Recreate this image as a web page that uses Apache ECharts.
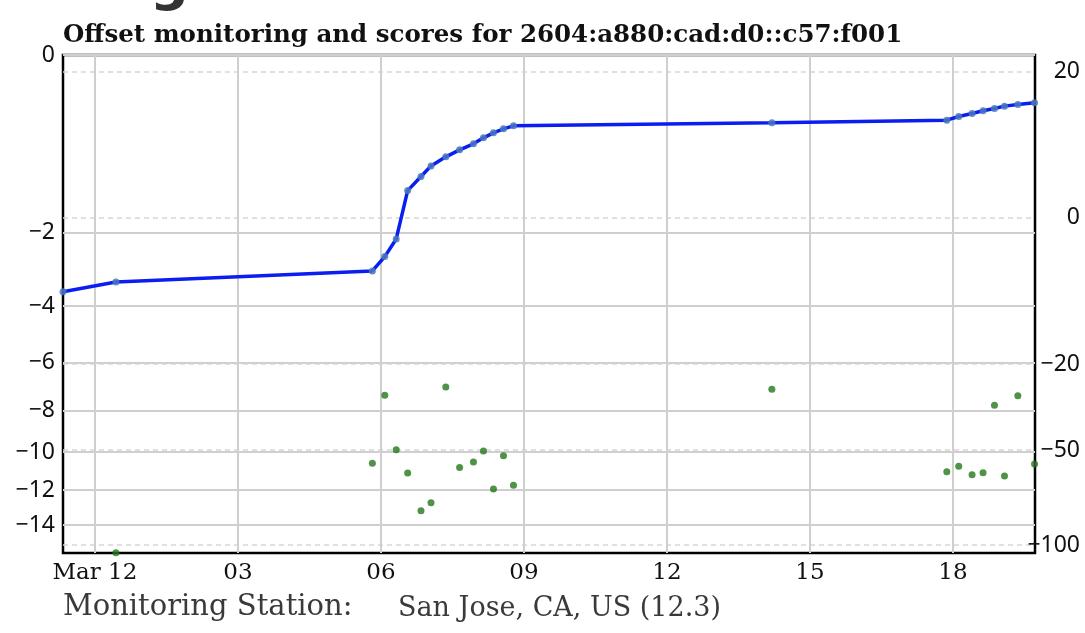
<!DOCTYPE html>
<html>
<head>
<meta charset="utf-8">
<script src="https://cdn.jsdelivr.net/npm/echarts@6/dist/echarts.min.js"></script>
<style>
  html, body { margin: 0; padding: 0; background: #fff; }
  #chart { width: 1085px; height: 633px; }
</style>
</head>
<body>
<div id="chart"></div>
<script>
// hours after Mar 12 00:00 for each monitoring sample
const hours = [0.44, 5.82, 6.08, 6.32, 6.56, 6.84, 7.05, 7.36, 7.65, 7.94, 8.15, 8.36, 8.57, 8.78,
               14.20, 17.87, 18.12, 18.40, 18.63, 18.87, 19.08, 19.36, 19.71];
// score (right axis, blue line)
const scores = [-8.77, -7.26, -5.30, -2.88, 3.74, 5.66, 7.12, 8.36, 9.32, 10.14, 10.96, 11.64, 12.19, 12.60,
                13.01, 13.38, 13.88, 14.29, 14.66, 14.97, 15.30, 15.52, 15.75];
// offset in ms (left axis, green dots)
const offsets = [-15.7, -10.57, -7.34, -9.88, -11.08, -13.16, -12.71, -6.99, -10.78, -10.50, -9.94, -11.94, -10.18, -11.74,
                 -7.08, -11.01, -10.72, -11.17, -11.06, -7.78, -11.24, -7.36, -10.60];
// score line enters from before the visible window
const scoreBefore = [-0.67, -10.10];

const hourTicks = [0, 3, 6, 9, 12, 15, 18];
const offsetTicks = [0, -2, -4, -6, -8, -10, -12, -14];
const scoreTicks = [20, 0, -20, -50, -100];

const xRange = [-0.67, 19.72];
const offsetMin = -15.72;

// offset axis is a square-root scale
function offsetPos(v) { return v < 0 ? -Math.sqrt(-v) : Math.sqrt(v); }
function offsetFromPos(p) { return p < 0 ? -p * p : p * p; }

// score axis is piecewise linear
const scoreKnots = [-104.2, -50, -20, 22.3];
const scoreKnotPos = [0, 0.2068, 0.3795, 1];
function interp(v, from, to) {
    let i = 0;
    while (i < from.length - 2 && v > from[i + 1]) i++;
    const f = (v - from[i]) / (from[i + 1] - from[i]);
    return to[i] + f * (to[i + 1] - to[i]);
}
function scorePos(s) { return interp(s, scoreKnots, scoreKnotPos); }
function scoreFromPos(p) { return interp(p, scoreKnotPos, scoreKnots); }

const MINUS = '\u2212';
function signed(n) { return n < 0 ? MINUS + Math.abs(n) : String(n); }

const scoreData = [scoreBefore].concat(hours.map((h, i) => [h, scores[i]]))
    .map(d => [d[0], scorePos(d[1])]);
const offsetData = hours.map((h, i) => [h, offsetPos(offsets[i])]);

const chart = echarts.init(document.getElementById('chart'));

chart.setOption({
    animation: false,
    backgroundColor: '#fff',
    grid: {
        left: 63, right: 50, top: 55, bottom: 80,
        show: true, borderColor: '#000', borderWidth: 2.5,
    },
    graphic: [
        {
            type: 'text', left: 150, top: -41,
            style: { text: 'g', font: 'bold 54px "DejaVu Sans"', fill: '#333' },
        },
        {
            type: 'text', left: 63, top: 23,
            style: {
                text: 'Offset monitoring and scores for 2604:a880:cad:d0::c57:f001',
                font: 'bold 24.5px "DejaVu Serif"', fill: '#111',
            },
        },
        {
            type: 'text', left: 63, top: 593,
            style: { text: 'Monitoring Station:', font: '29px "DejaVu Serif"', fill: '#3a3a3a' },
        },
        {
            type: 'text', left: 398, top: 595,
            style: { text: 'San Jose, CA, US (12.3)', font: '27px "DejaVu Serif"', fill: '#3a3a3a' },
        },
    ],
    xAxis: {
        type: 'value',
        min: xRange[0], max: xRange[1],
        axisLine: { show: false },
        axisTick: { show: false, customValues: hourTicks },
        axisLabel: {
            customValues: hourTicks,
            margin: 9,
            fontFamily: 'DejaVu Serif', fontSize: 23, color: '#111',
            formatter: v => v === 0 ? 'Mar 12' : String(v).padStart(2, '0'),
        },
        splitLine: { show: true, lineStyle: { color: '#cfcfcf', width: 2 } },
    },
    yAxis: [
        {
            type: 'value',
            position: 'left',
            min: offsetPos(offsetMin), max: 0,
            axisLine: { show: false },
            axisTick: { show: false, customValues: offsetTicks.map(offsetPos) },
            axisLabel: {
                customValues: offsetTicks.map(offsetPos),
                margin: 8,
                fontFamily: 'Noto Sans', fontSize: 23, color: '#111',
                formatter: v => signed(Math.round(offsetFromPos(v))),
            },
            splitLine: { show: true, lineStyle: { color: '#cfcfcf', width: 2 } },
        },
        {
            type: 'value',
            position: 'right',
            min: 0, max: 1,
            axisLine: { show: false },
            axisTick: { show: false, customValues: scoreTicks.map(scorePos) },
            axisLabel: {
                customValues: scoreTicks.map(scorePos),
                margin: 45, align: 'right',
                fontFamily: 'Noto Sans', fontSize: 23, color: '#111',
                formatter: v => signed(Math.round(scoreFromPos(v))),
            },
            splitLine: { show: true, lineStyle: { color: '#d6d6d6', width: 1.5, type: [5, 4] } },
        },
    ],
    series: [
        {
            name: 'offset',
            type: 'scatter',
            yAxisIndex: 0,
            data: offsetData,
            symbolSize: 7,
            itemStyle: { color: '#24781a' },
            z: 3,
        },
        {
            name: 'score',
            type: 'line',
            yAxisIndex: 1,
            data: scoreData,
            symbol: 'circle',
            symbolSize: 7,
            showAllSymbol: true,
            lineStyle: { color: '#0a1ef2', width: 3.5 },
            itemStyle: { color: '#4a78c0', opacity: 0.85 },
            z: 4,
        },
    ],
});
</script>
</body>
</html>
